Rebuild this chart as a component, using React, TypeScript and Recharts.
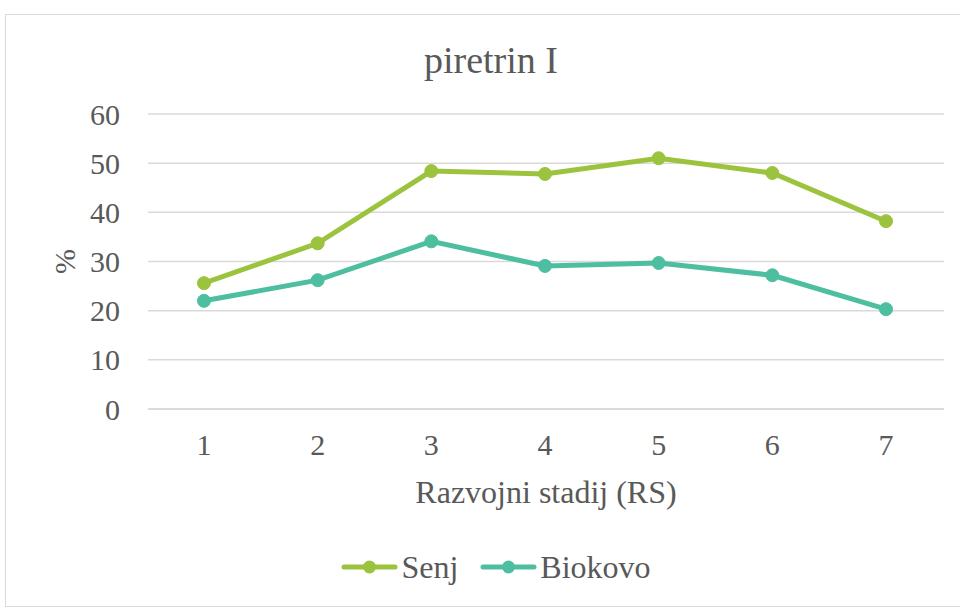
import { CartesianGrid, Legend, Line, LineChart, XAxis, YAxis } from "recharts";

const stages = ["1", "2", "3", "4", "5", "6", "7"];
const senj = [25.6, 33.7, 48.4, 47.8, 51.0, 48.0, 38.2];
const biokovo = [22.0, 26.2, 34.1, 29.1, 29.7, 27.2, 20.3];
const yTicks = [0, 10, 20, 30, 40, 50, 60];
const seriesNames = ["Senj", "Biokovo"];

const SENJ_COLOR = "#9cc33d";
const BIOKOVO_COLOR = "#4dbfa0";
const COLORS: Record<string, string> = { Senj: SENJ_COLOR, Biokovo: BIOKOVO_COLOR };
const TEXT = "#595959";
const FONT = "'Liberation Serif', 'Times New Roman', serif";

const data = stages.map((stage, i) => ({
  stage,
  Senj: senj[i],
  Biokovo: biokovo[i],
}));

// legend in Excel style: thick line with a dot in the middle
function LegendContent() {
  return (
    <div style={{ display: "flex", justifyContent: "center", gap: 22, fontFamily: FONT }}>
      {seriesNames.map((name) => (
        <div key={name} style={{ display: "flex", alignItems: "center" }}>
          <svg width={57} height={16}>
            <line x1={3} y1={8} x2={54} y2={8} stroke={COLORS[name]} strokeWidth={5} strokeLinecap="round" />
            <circle cx={28.5} cy={8} r={6.5} fill={COLORS[name]} />
          </svg>
          <span style={{ fontSize: 32, color: TEXT, marginLeft: 3, lineHeight: 1 }}>{name}</span>
        </div>
      ))}
    </div>
  );
}

export default function App() {
  return (
    <div style={{ position: "absolute", left: 0, top: 0, width: 960, height: 610, background: "#fff", overflow: "hidden" }}>
      <div
        style={{
          position: "absolute",
          left: 5,
          top: 14,
          width: 970,
          height: 593,
          border: "1.5px solid #d9d9d9",
          boxSizing: "border-box",
        }}
      />
      <div
        style={{
          position: "absolute",
          left: 0,
          top: 41,
          width: 982,
          textAlign: "center",
          fontFamily: FONT,
          fontSize: 38,
          lineHeight: 1,
          color: TEXT,
        }}
      >
        piretrin I
      </div>
      <div style={{ position: "absolute", left: 0, top: 0 }}>
        <LineChart
          width={960}
          height={610}
          data={data}
          margin={{ top: 114, right: 16, bottom: 91, left: 48 }}
        >
          <CartesianGrid horizontal vertical={false} stroke="#d9d9d9" strokeWidth={1.5} />
          <XAxis
            dataKey="stage"
            height={110}
            padding={{ left: 56, right: 58 }}
            tickLine={false}
            axisLine={{ stroke: "#d9d9d9", strokeWidth: 1.5 }}
            tickMargin={19}
            tick={{ fill: TEXT, fontSize: 30, fontFamily: FONT }}
            label={{
              value: "Razvojni stadij (RS)",
              position: "insideTop",
              offset: 71,
              fill: TEXT,
              fontSize: 32,
              fontFamily: FONT,
            }}
          />
          <YAxis
            width={100}
            domain={[0, 60]}
            ticks={yTicks}
            tickLine={false}
            axisLine={false}
            tickMargin={22}
            tick={{ fill: TEXT, fontSize: 30, fontFamily: FONT }}
            label={{
              content: (p: any) => {
                const vb = p.viewBox ?? { x: 0, y: 0, width: 0, height: 0 };
                const cx = vb.x + 16;
                const cy = vb.y + vb.height / 2;
                return (
                  <text
                    x={cx}
                    y={cy}
                    transform={`rotate(-90 ${cx} ${cy})`}
                    textAnchor="middle"
                    dominantBaseline="central"
                    fill={TEXT}
                    fontSize={30}
                    fontFamily={FONT}
                  >
                    %
                  </text>
                );
              },
            }}
          />
          <Legend
            verticalAlign="middle"
            layout="horizontal"
            wrapperStyle={{ top: 551, left: 0, width: 992 }}
            content={() => <LegendContent />}
          />
          <Line
            dataKey="Senj"
            stroke={SENJ_COLOR}
            strokeWidth={5}
            dot={{ r: 6.5, fill: SENJ_COLOR, stroke: SENJ_COLOR, strokeWidth: 1 }}
            activeDot={false}
            isAnimationActive={false}
          />
          <Line
            dataKey="Biokovo"
            stroke={BIOKOVO_COLOR}
            strokeWidth={5}
            dot={{ r: 6.5, fill: BIOKOVO_COLOR, stroke: BIOKOVO_COLOR, strokeWidth: 1 }}
            activeDot={false}
            isAnimationActive={false}
          />
        </LineChart>
      </div>
    </div>
  );
}
